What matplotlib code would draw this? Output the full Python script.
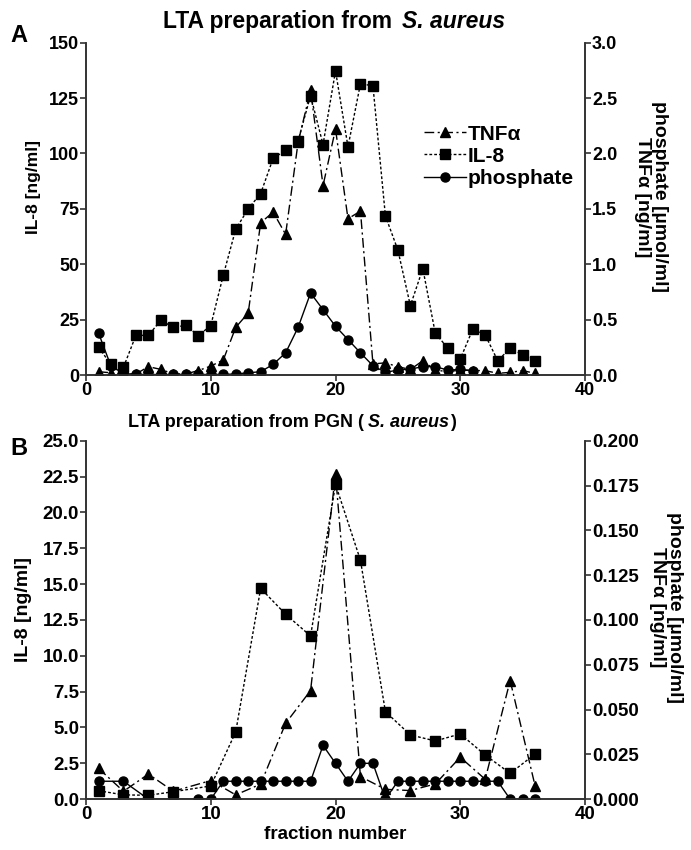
import matplotlib
matplotlib.use("Agg")
import matplotlib.pyplot as plt
from matplotlib.legend_handler import HandlerLine2D

plt.rcParams['font.family'] = ['Liberation Sans', 'DejaVu Sans']
plt.rcParams['font.weight'] = 'bold'
plt.rcParams['axes.labelweight'] = 'bold'

# panel A: LTA from S. aureus (fractions 1..36)
frac_a = list(range(1, 37))
il8_a = [12.5, 4.8, 3.5, 17.9, 17.9, 24.7, 21.5, 22.4, 17.8, 22.3, 45.0, 65.8,
         75.0, 81.9, 97.8, 101.4, 105.7, 126.1, 104.0, 137.3, 103.0, 131.5,
         130.5, 71.8, 56.4, 31.3, 48.0, 18.8, 12.2, 7.2, 20.6, 18.1, 6.5,
         12.0, 9.2, 6.5]
tnf_a = [0.03, 0.02, 0.01, 0.01, 0.075, 0.051, 0.01, 0.01, 0.04, 0.081,
         0.135, 0.43, 0.56, 1.375, 1.47, 1.27, 2.1, 2.57, 1.71, 2.22, 1.41,
         1.48, 0.1, 0.11, 0.075, 0.05, 0.129, 0.045, 0.03, 0.045, 0.04, 0.04,
         0.015, 0.024, 0.04, 0.015]
phos_frac_a = list(range(1, 32))
phos_a = [0.38, 0.08, 0.015, 0.005, 0.005, 0.005, 0.005, 0.005, 0.005, 0.005,
          0.005, 0.01, 0.02, 0.03, 0.096, 0.2, 0.43, 0.74, 0.59, 0.44, 0.32,
          0.2, 0.084, 0.024, 0.045, 0.054, 0.075, 0.075, 0.045, 0.05, 0.04]

# panel B: LTA from PGN
frac_b = [1, 3, 5, 7, 10, 12, 14, 16, 18, 20, 22, 24, 26, 28, 30, 32, 34, 36]
il8_b = [0.59, 0.3, 0.27, 0.52, 0.92, 4.69, 14.7, 12.9, 11.38, 21.96, 16.66,
         6.1, 4.48, 4.06, 4.55, 3.08, 1.8, 3.15]
tnf_b = [0.0172, 0.0044, 0.014, 0.0044, 0.0104, 0.0024, 0.0084, 0.0423,
         0.0606, 0.1814, 0.0126, 0.0055, 0.0048, 0.0085, 0.0234, 0.0111,
         0.0662, 0.0074]
phos_frac_b = [1, 3, 5, 7, 9, 10, 11, 12, 13, 14, 15, 16, 17, 18, 19, 20, 21,
               22, 23, 24, 25, 26, 27, 28, 29, 30, 31, 32, 33, 34, 35, 36]
phos_b = [0.01, 0.01, 0, 0, 0, 0, 0.01, 0.01, 0.01, 0.01, 0.01, 0.01, 0.01,
          0.01, 0.03, 0.02, 0.01, 0.02, 0.02, 0, 0.01, 0.01, 0.01, 0.01, 0.01,
          0.01, 0.01, 0.01, 0.01, 0, 0, 0]


class EndMarker(HandlerLine2D):
    # marker at the right end of the legend line, like GraphPad
    def get_xdata(self, legend, xdescent, ydescent, width, height, fontsize):
        xdata, _ = super().get_xdata(legend, xdescent, ydescent, width, height, fontsize)
        return xdata, [xdata[-1] - 3]


tnf_style = dict(color='black', lw=1.0, ls=(0, (7, 2.5, 1.5, 2.5)), marker='^', ms=7)
il8_style = dict(color='black', lw=1.0, ls=(0, (2, 1.5)), marker='s', ms=6.5)
phos_style = dict(color='black', lw=1.0, ls='-', marker='o', ms=6.5)


def setup(ax, ax2, fs):
    for a in (ax, ax2):
        a.spines['top'].set_visible(False)
        for s in ('left', 'right', 'bottom'):
            a.spines[s].set_color('#333333')
            a.spines[s].set_linewidth(1.2)
        a.tick_params(direction='out', length=4, width=1.2, color='#333333',
                      labelsize=fs, pad=1)
    ax.set_xlim(0, 40)
    ax.set_xticks([0, 10, 20, 30, 40])


fig = plt.figure(figsize=(6.91, 8.5), dpi=100)

# ---- A ----
axA = fig.add_axes([0.1245, 0.5588, 0.7221, 0.391])
axA2 = axA.twinx()
setup(axA, axA2, 13)
axA.set_ylim(0, 150)
axA.set_yticks([0, 25, 50, 75, 100, 125, 150])
axA2.set_ylim(0, 3.0)
axA2.set_yticks([0.0, 0.5, 1.0, 1.5, 2.0, 2.5, 3.0])
axA2.set_yticklabels([f"{v:.1f}" for v in axA2.get_yticks()])

l_il8, = axA.plot(frac_a, il8_a, label='IL-8', **il8_style)
l_tnf, = axA2.plot(frac_a, tnf_a, label='TNFα', **tnf_style)
l_phos, = axA2.plot(phos_frac_a, phos_a, label='phosphate', **phos_style)

axA2.legend([l_tnf, l_il8, l_phos], ['TNFα', 'IL-8', 'phosphate'],
            loc='upper left', bbox_to_anchor=(0.64, 0.81), frameon=False,
            fontsize=15, handlelength=2.0, handletextpad=0.1, labelspacing=0.15,
            handler_map={l: EndMarker(numpoints=1) for l in (l_tnf, l_il8, l_phos)})

axA.text(-0.105, 0.565, 'IL-8 [ng/ml]', transform=axA.transAxes, rotation=90,
         ha='center', va='center', fontsize=12.5)
axA2.text(1.133, 0.536, 'phosphate [µmol/ml]\nTNFα [ng/ml]', transform=axA2.transAxes,
          rotation=270, ha='center', va='center', multialignment='center',
          fontsize=14, linespacing=1.0)

# ---- B ----
axB = fig.add_axes([0.1245, 0.0598, 0.7221, 0.4217])
axB2 = axB.twinx()
setup(axB, axB2, 13.5)
axB.set_ylim(0, 25)
axB.set_yticks([i * 2.5 for i in range(11)])
axB.set_yticklabels([f"{i * 2.5:.1f}" for i in range(11)])
axB2.set_ylim(0, 0.2)
axB2.set_yticks([i * 0.025 for i in range(9)])
axB2.set_yticklabels([f"{i * 0.025:.3f}" for i in range(9)])

axB.plot(frac_b, il8_b, **il8_style)
axB2.plot(frac_b, tnf_b, **tnf_style)
axB2.plot(phos_frac_b, phos_b, **phos_style)

axB.text(-0.126, 0.53, 'IL-8 [ng/ml]', transform=axB.transAxes, rotation=90,
         ha='center', va='center', fontsize=14)
axB2.text(1.163, 0.536, 'phosphate [µmol/ml]\nTNFα [ng/ml]', transform=axB2.transAxes,
          rotation=270, ha='center', va='center', multialignment='center',
          fontsize=14, linespacing=1.0)
axB.set_xlabel('fraction number', fontsize=13.5, fontweight='bold', labelpad=2)

# panel letters
fig.text(10 / 691, 1 - 35 / 850, 'A', fontsize=17, ha='left', va='center')
fig.text(10 / 691, 1 - 448 / 850, 'B', fontsize=17, ha='left', va='center')


# titles with italic species name
def title_parts(x, y, parts, fs):
    fig.canvas.draw()
    r = fig.canvas.get_renderer()
    for txt, style, gap in parts:
        t = fig.text(x, y, txt, fontsize=fs, style=style, ha='left', va='baseline')
        bb = t.get_window_extent(renderer=r)
        x = (bb.x1 + gap) / fig.bbox.width


title_parts(163 / 691, 1 - 28 / 850,
            [('LTA preparation from', 'normal', 10), ('S. aureus', 'italic', 0)], 16.5)
title_parts(128 / 691, 1 - 427 / 850,
            [('LTA preparation from PGN (', 'normal', 4), ('S. aureus', 'italic', 1),
             (')', 'normal', 0)], 13)

fig.savefig('out.png', dpi=100)
